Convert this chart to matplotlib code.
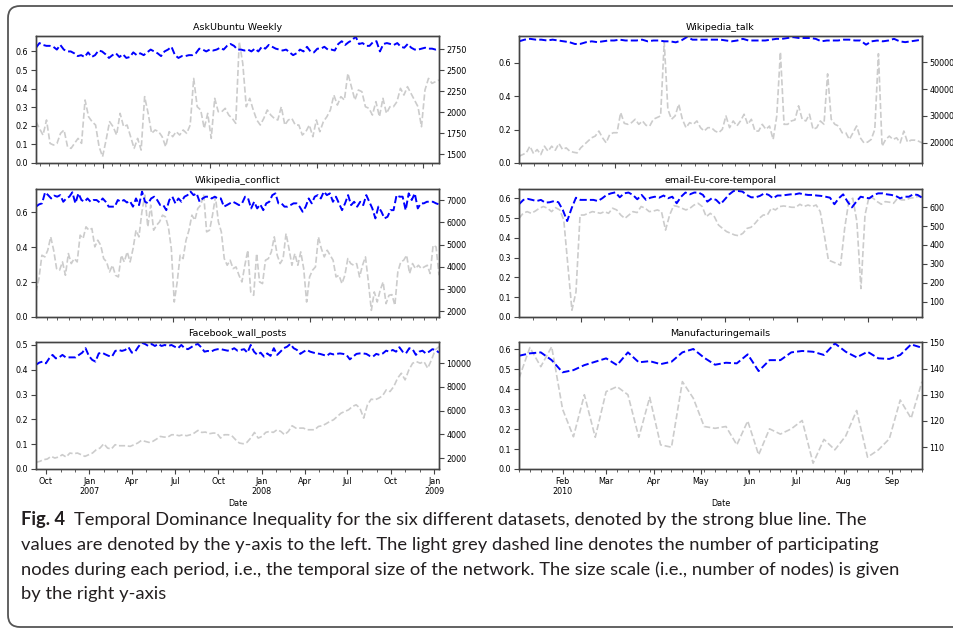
import numpy as np
import pandas as pd
import matplotlib
matplotlib.use('Agg')
import matplotlib.pyplot as plt
import matplotlib.dates as mdates
from matplotlib.ticker import MultipleLocator, FuncFormatter, ScalarFormatter
from matplotlib.path import Path
from matplotlib.patches import PathPatch
from matplotlib.transforms import Affine2D
from matplotlib import font_manager

# ---- data ----
# blue = temporal dominance inequality (left axis), grey = number of nodes (right axis)
askubuntu_tdi = [0.62, 0.645, 0.635, 0.63, 0.63, 0.625, 0.61, 0.635, 0.61, 0.60, 0.60, 0.59, 0.575, 0.58, 0.57,
                 0.595, 0.57, 0.58, 0.605, 0.60, 0.585, 0.565, 0.58, 0.59, 0.57, 0.585, 0.565, 0.57, 0.595, 0.58,
                 0.59, 0.58, 0.595, 0.61, 0.60, 0.59, 0.575, 0.60, 0.61, 0.625, 0.58, 0.565, 0.575, 0.575, 0.58,
                 0.58, 0.59, 0.615, 0.61, 0.60, 0.61, 0.605, 0.61, 0.62, 0.61, 0.63, 0.64, 0.63, 0.61, 0.61,
                 0.605, 0.61, 0.60, 0.615, 0.60, 0.625, 0.615, 0.635, 0.625, 0.615, 0.61, 0.605, 0.61, 0.595,
                 0.58, 0.59, 0.61, 0.60, 0.625, 0.60, 0.595, 0.615, 0.615, 0.625, 0.61, 0.61, 0.605, 0.64, 0.655,
                 0.635, 0.65, 0.66, 0.68, 0.64, 0.645, 0.63, 0.63, 0.65, 0.655, 0.60, 0.64, 0.645, 0.64, 0.635,
                 0.645, 0.625, 0.62, 0.64, 0.62, 0.61, 0.61, 0.615, 0.62, 0.615, 0.615, 0.61, 0.615]
askubuntu_size = [1885, 1805, 1725, 1905, 1627, 1607, 1627, 1746, 1786, 1587, 1567, 1627, 1686, 1627, 2143, 1944,
                  1885, 1845, 1587, 1468, 1667, 1885, 1825, 1726, 1984, 1825, 1845, 1706, 1567, 1686, 1547, 2183,
                  1984, 1746, 1786, 1766, 1706, 1587, 1766, 1706, 1766, 1726, 1786, 1746, 1845, 2400, 2063, 2024,
                  1805, 1984, 1687, 2163, 2004, 2004, 2044, 1964, 1924, 1865, 2837, 2579, 2063, 2163, 2024, 1905,
                  1845, 1924, 2024, 1964, 1924, 1905, 2063, 1845, 1905, 1924, 1845, 1845, 1726, 1766, 1845, 1706,
                  1905, 1766, 1885, 1944, 2024, 2202, 2083, 2183, 2143, 2460, 2302, 2143, 2262, 2242, 2063, 2044,
                  1964, 2123, 1944, 2163, 1984, 2063, 2063, 2123, 2282, 2202, 2302, 2222, 2143, 2063, 1825, 2262,
                  2400, 2341, 2361, 2381]

wikitalk_tdi = [0.73, 0.74, 0.745, 0.74, 0.74, 0.735, 0.74, 0.735, 0.73, 0.725, 0.714, 0.715, 0.725, 0.73, 0.725,
                0.73, 0.735, 0.735, 0.74, 0.735, 0.735, 0.735, 0.74, 0.73, 0.735, 0.735, 0.73, 0.73, 0.724, 0.735,
                0.756, 0.74, 0.74, 0.74, 0.74, 0.74, 0.74, 0.735, 0.73, 0.735, 0.745, 0.735, 0.735, 0.735, 0.735,
                0.74, 0.745, 0.745, 0.75, 0.755, 0.75, 0.75, 0.75, 0.745, 0.73, 0.735, 0.735, 0.735, 0.74, 0.74,
                0.735, 0.735, 0.71, 0.73, 0.735, 0.73, 0.735, 0.745, 0.73, 0.725, 0.73, 0.735, 0.74]
wikitalk_size = [15000, 15625, 16250, 18750, 16000, 17500, 15625, 18750, 16875, 18750, 17250, 19750, 17500, 18125,
                 16875, 16500, 16250, 18125, 19375, 20625, 21875, 22500, 24375, 21875, 20000, 23125, 23750, 23750,
                 31250, 27250, 26875, 27500, 28750, 26875, 28125, 26500, 26250, 28750, 29375, 30000, 57500, 32500,
                 28750, 30000, 34375, 28750, 25625, 27500, 26875, 28125, 25625, 24375, 25625, 25625, 24375, 23750,
                 25000, 30000, 25625, 28125, 26250, 28125, 30625, 26875, 28750, 24375, 24375, 26875, 25000, 26250,
                 21250, 30000, 53750, 26875, 26875, 28125, 28500, 33750, 28750, 28125, 30625, 25000, 25625, 28125,
                 26875, 45625, 28750, 26875, 26250, 23750, 23750, 21250, 23750, 26250, 21875, 20000, 20250, 21250,
                 25000, 53125, 18750, 21250, 22500, 21250, 21875, 20000, 24375, 20250, 21000, 21000, 20625, 20000]

conflict_tdi = [0.631, 0.644, 0.650, 0.713, 0.697, 0.678, 0.694, 0.688, 0.697, 0.659, 0.678, 0.688, 0.713, 0.650,
                0.707, 0.669, 0.659, 0.678, 0.659, 0.669, 0.669, 0.655, 0.678, 0.659, 0.631, 0.631, 0.631, 0.669,
                0.659, 0.669, 0.655, 0.663, 0.631, 0.678, 0.640, 0.717, 0.659, 0.650, 0.678, 0.688, 0.669, 0.640,
                0.640, 0.611, 0.669, 0.688, 0.650, 0.678, 0.659, 0.688, 0.697, 0.717, 0.697, 0.707, 0.659, 0.678,
                0.688, 0.688, 0.678, 0.688, 0.678, 0.678, 0.631, 0.640, 0.650, 0.659, 0.650, 0.640, 0.650, 0.688,
                0.678, 0.621, 0.659, 0.621, 0.644, 0.611, 0.650, 0.659, 0.697, 0.707, 0.650, 0.650, 0.631, 0.631,
                0.640, 0.650, 0.650, 0.631, 0.602, 0.631, 0.678, 0.650, 0.688, 0.697, 0.678, 0.717, 0.697, 0.707,
                0.659, 0.688, 0.650, 0.611, 0.650, 0.697, 0.640, 0.659, 0.631, 0.659, 0.640, 0.697, 0.659, 0.621,
                0.564, 0.631, 0.602, 0.564, 0.573, 0.611, 0.611, 0.697, 0.688, 0.688, 0.611, 0.707, 0.669, 0.707,
                0.621, 0.650, 0.650, 0.659, 0.659, 0.659, 0.650, 0.644]
conflict_size = [2870, 3470, 4520, 4445, 4745, 5345, 4745, 3920, 3845, 4220, 3620, 4595, 4145, 4370, 4220, 5420,
                 5270, 5795, 5645, 5720, 4895, 5195, 4970, 4370, 4220, 3770, 4070, 3620, 3545, 4520, 4220, 4670,
                 4220, 4820, 5645, 5345, 6470, 7220, 5795, 6770, 5645, 5870, 6020, 6320, 6245, 5795, 4820, 2420,
                 3320, 4520, 4370, 5195, 5645, 6320, 6095, 6620, 6770, 7250, 5570, 5645, 6320, 7145, 6020, 5570,
                 4370, 4070, 4295, 3920, 3995, 3620, 3320, 4070, 4745, 2870, 2720, 4595, 3320, 3245, 4295, 4370,
                 4670, 5345, 4520, 4145, 4370, 5495, 4820, 4070, 4595, 4070, 4670, 3920, 2420, 3545, 3845, 3995,
                 5345, 4820, 4445, 4745, 4520, 4295, 3545, 3620, 3245, 3620, 4370, 4145, 4070, 4145, 3545, 4070,
                 4445, 3320, 2045, 2870, 2420, 2945, 3320, 2345, 2720, 2750, 2270, 3770, 4220, 4295, 4520, 3695,
                 4145, 3920, 4070, 3920, 3995, 4070, 3695, 4970, 4895, 3620]

email_tdi = [0.570, 0.592, 0.597, 0.592, 0.586, 0.592, 0.578, 0.580, 0.586, 0.580, 0.541, 0.485, 0.549, 0.603,
             0.592, 0.592, 0.592, 0.592, 0.586, 0.600, 0.617, 0.625, 0.630, 0.605, 0.625, 0.629, 0.617, 0.595,
             0.617, 0.592, 0.603, 0.608, 0.603, 0.614, 0.600, 0.608, 0.575, 0.608, 0.629, 0.620, 0.629, 0.629,
             0.617, 0.583, 0.600, 0.592, 0.570, 0.595, 0.620, 0.637, 0.637, 0.634, 0.617, 0.605, 0.605, 0.612,
             0.625, 0.617, 0.600, 0.614, 0.614, 0.617, 0.620, 0.620, 0.625, 0.620, 0.617, 0.617, 0.614, 0.612,
             0.608, 0.603, 0.570, 0.600, 0.620, 0.583, 0.554, 0.583, 0.608, 0.603, 0.600, 0.617, 0.625, 0.625,
             0.620, 0.617, 0.612, 0.600, 0.608, 0.608, 0.620, 0.617, 0.603]
email_size = [541, 568, 577, 568, 580, 595, 604, 595, 577, 598, 586, 533, 293, 54, 151, 559, 559, 568, 577, 573,
              568, 577, 568, 595, 586, 559, 541, 559, 577, 572, 604, 595, 577, 580, 586, 577, 479, 559, 609, 604,
              595, 586, 595, 612, 621, 604, 550, 568, 550, 506, 488, 471, 462, 453, 449, 462, 488, 494, 515, 541,
              559, 559, 595, 586, 604, 607, 604, 600, 600, 616, 604, 612, 604, 612, 577, 453, 320, 311, 302, 293,
              488, 630, 648, 524, 169, 559, 657, 648, 630, 616, 630, 627, 621, 648, 639, 639, 648, 651, 657, 657]

facebook_tdi = [0.420, 0.429, 0.433, 0.426, 0.446, 0.460, 0.446, 0.450, 0.460, 0.450, 0.450, 0.450, 0.450, 0.460,
                0.469, 0.487, 0.456, 0.440, 0.433, 0.466, 0.469, 0.462, 0.456, 0.453, 0.476, 0.480, 0.476, 0.480,
                0.491, 0.469, 0.473, 0.493, 0.509, 0.504, 0.496, 0.504, 0.496, 0.504, 0.496, 0.500, 0.496, 0.500,
                0.493, 0.487, 0.500, 0.487, 0.483, 0.491, 0.500, 0.504, 0.491, 0.473, 0.476, 0.473, 0.480, 0.483,
                0.483, 0.480, 0.477, 0.480, 0.487, 0.477, 0.480, 0.483, 0.469, 0.500, 0.473, 0.460, 0.469, 0.453,
                0.466, 0.456, 0.487, 0.460, 0.473, 0.487, 0.493, 0.504, 0.487, 0.480, 0.464, 0.473, 0.480, 0.473,
                0.469, 0.466, 0.464, 0.460, 0.456, 0.466, 0.462, 0.464, 0.466, 0.464, 0.460, 0.442, 0.453, 0.464,
                0.466, 0.466, 0.464, 0.456, 0.453, 0.464, 0.460, 0.466, 0.477, 0.473, 0.480, 0.473, 0.491, 0.473,
                0.466, 0.487, 0.483, 0.460, 0.473, 0.477, 0.466, 0.473, 0.483, 0.480, 0.469]
facebook_size = [1635, 1719, 1860, 1916, 2140, 2000, 2084, 2281, 2084, 2421, 2365, 2421, 2281, 2140, 2281, 2421,
                 2702, 2843, 3208, 2843, 2758, 3124, 3039, 3039, 3039, 2983, 3124, 3264, 3489, 3405, 3320, 3405,
                 3601, 3826, 3770, 3770, 3966, 3966, 3882, 3966, 3882, 3966, 4107, 4331, 4163, 4191, 4051, 4107,
                 4107, 3685, 3966, 3966, 3882, 3545, 3264, 3208, 3320, 3685, 4163, 3685, 3826, 4163, 4247, 4163,
                 4388, 4247, 3966, 4247, 4725, 4528, 4528, 4528, 4388, 4388, 4388, 4669, 4725, 4893, 5090, 5230,
                 5511, 5792, 5933, 6073, 6354, 6494, 6214, 5371, 6494, 6972, 6916, 7056, 7253, 7758, 7618, 8039,
                 8742, 9163, 8601, 9444, 10006, 10146, 10006, 10146, 9584, 10287, 11129, 11410]

manuf_tdi = [0.568, 0.580, 0.585, 0.546, 0.485, 0.496, 0.521, 0.538, 0.555, 0.521, 0.585, 0.535, 0.541, 0.526,
             0.538, 0.585, 0.602, 0.558, 0.523, 0.533, 0.530, 0.575, 0.491, 0.546, 0.546, 0.585, 0.592, 0.588,
             0.572, 0.630, 0.588, 0.560, 0.588, 0.555, 0.552, 0.572, 0.625, 0.608]
manuf_size = [136.3, 148.0, 140.7, 148.3, 124.5, 114.0, 130.0, 113.8, 131.2, 133.1, 130.0, 113.8, 129.0, 110.9,
              110.0, 135.0, 128.7, 117.9, 117.2, 117.9, 110.9, 120.0, 107.1, 117.0, 115.0, 117.0, 120.2, 103.9,
              113.0, 109.0, 114.3, 124.0, 106.2, 109.0, 113.2, 128.0, 121.0, 135.0]

caption_lines = [
    'Temporal Dominance Inequality for the six different datasets, denoted by the strong blue line. The',
    'values are denoted by the y-axis to the left. The light grey dashed line denotes the number of participating',
    'nodes during each period, i.e., the temporal size of the network. The size scale (i.e., number of nodes) is given',
    'by the right y-axis',
]


def month_fmt(year_months):
    def f(x, pos=None):
        d = mdates.num2date(x)
        s = d.strftime('%b')
        if d.month in year_months:
            s += '\n' + d.strftime('%Y')
        return s
    return FuncFormatter(f)


panels = [
    dict(title='AskUbuntu Weekly', tdi=askubuntu_tdi, size=askubuntu_size, span=('2010-05-17', '2014-02-24'),
         ylim=(0, 0.683), ystep=0.1, y2lim=(1393, 2905), y2step=250,
         major=mdates.YearLocator(), minor=mdates.MonthLocator(), fmt=None),
    dict(title='Wikipedia_talk', tdi=wikitalk_tdi, size=wikitalk_size, span=('2004-05-27', '2006-12-01'),
         ylim=(0, 0.762), ystep=0.2, y2lim=(12500, 59700), y2step=10000,
         major=mdates.YearLocator(), minor=mdates.MonthLocator(), fmt=None),
    dict(title='Wikipedia_conflict', tdi=conflict_tdi, size=conflict_size, span=('2004-01-04', '2006-12-10'),
         ylim=(0, 0.732), ystep=0.2, y2lim=(1745, 7495), y2step=1000,
         major=mdates.YearLocator(), minor=mdates.MonthLocator(), fmt=None),
    dict(title='email-Eu-core-temporal', tdi=email_tdi, size=email_size, span=('2004-01-14', '2005-06-08'),
         ylim=(0, 0.647), ystep=0.1, y2lim=(18, 697), y2step=100,
         major=mdates.MonthLocator(bymonth=[1, 4, 7, 10]), minor=mdates.MonthLocator(), fmt=None),
    dict(title='Facebook_wall_posts', tdi=facebook_tdi, size=facebook_size, span=('2006-09-10', '2009-01-11'),
         ylim=(0, 0.512), ystep=0.1, y2lim=(1073, 11800), y2step=2000,
         major=mdates.MonthLocator(bymonth=[1, 4, 7, 10]), minor=mdates.MonthLocator(), fmt=month_fmt([1])),
    dict(title='Manufacturingemails', tdi=manuf_tdi, size=manuf_size, span=('2010-01-04', '2010-09-20'),
         ylim=(0, 0.637), ystep=0.1, y2lim=(101.7, 150.1), y2step=10,
         major=mdates.MonthLocator(), minor=mdates.WeekdayLocator(byweekday=mdates.MO), fmt=month_fmt([2])),
]

W, H = 954, 630
fig = plt.figure(figsize=(W / 100, H / 100), dpi=100)

col_x = [36, 519]
row_top = [36, 189, 342]
row_h = [127, 128, 127]
edge = '#444444'
tick_fs = 5.8

for i, p in enumerate(panels):
    r, c = divmod(i, 2)
    rect = [col_x[c] / W, (H - row_top[r] - row_h[r]) / H, 403 / W, row_h[r] / H]
    ax = fig.add_axes(rect)
    ax2 = ax.twinx()
    start, end = pd.Timestamp(p['span'][0]), pd.Timestamp(p['span'][1])
    x1 = pd.date_range(start, end, periods=len(p['tdi']))
    x2 = pd.date_range(start, end, periods=len(p['size']))
    ax2.plot(x2, p['size'], color='#cccccc', ls='--', lw=1.2)
    ax.plot(x1, p['tdi'], color='blue', ls='--', lw=1.4)
    ax.set_zorder(ax2.get_zorder() + 1)
    ax.patch.set_visible(False)

    ax.set_xlim(start, end)
    ax.set_ylim(*p['ylim'])
    ax2.set_ylim(*p['y2lim'])
    ax.yaxis.set_major_locator(MultipleLocator(p['ystep']))
    ax2.yaxis.set_major_locator(MultipleLocator(p['y2step']))
    ax2.yaxis.set_major_formatter(ScalarFormatter(useOffset=False))
    ax.xaxis.set_major_locator(p['major'])
    ax.xaxis.set_minor_locator(p['minor'])
    if p['fmt'] is not None:
        ax.xaxis.set_major_formatter(p['fmt'])
        ax.set_xlabel('Date', fontsize=tick_fs, labelpad=2)
    else:
        ax.tick_params(axis='x', labelbottom=False)

    for a in (ax, ax2):
        for s in a.spines.values():
            s.set_color(edge)
            s.set_linewidth(1.0)
        a.tick_params(which='major', length=3.5, width=0.8, color=edge, labelsize=tick_fs, pad=2)
        a.tick_params(which='minor', length=2, width=0.6, color=edge)
    for lbl in ax.get_xticklabels():
        lbl.set_ha('center')
    ax.set_title(p['title'], fontsize=6.8, pad=4)

# frame around the figure (pixel coordinates, y down), open on the right
to_fig = Affine2D().scale(1 / W, -1 / H).translate(0, 1) + fig.transFigure
rr = 12
left, top, bottom = 8, 6, 627
verts = [(W + 60, top), (left + rr, top), (left, top), (left, top + rr), (left, bottom - rr),
         (left, bottom), (left + rr, bottom), (W + 60, bottom)]
codes = [Path.MOVETO, Path.LINETO, Path.CURVE3, Path.CURVE3, Path.LINETO, Path.CURVE3, Path.CURVE3, Path.LINETO]
fig.add_artist(PathPatch(Path(verts, codes), transform=to_fig, fill=False, edgecolor='#555555', lw=1.3))

# caption
cap_family = 'DejaVu Sans'
for fam in ['Liberation Sans Narrow', 'Lato', 'Roboto']:
    try:
        font_manager.findfont(fam, fallback_to_default=False)
        cap_family = fam
        break
    except ValueError:
        pass

renderer = fig.canvas.get_renderer()
probe = fig.text(0, 0, caption_lines[0], fontsize=12, family=cap_family)
probe_w = probe.get_window_extent(renderer).width
probe.remove()
cap_fs = 12 * (863 - 76) / probe_w

cap_color = '#231f20'
line_y = [520, 545, 570, 594]
head = fig.text(21 / W, 1 - line_y[0] / H, 'Fig. 4', fontsize=cap_fs, weight='bold', family=cap_family,
                color=cap_color, va='center')
hx = head.get_window_extent(renderer).x1
fig.text((hx + 9) / W, 1 - line_y[0] / H, caption_lines[0], fontsize=cap_fs, family=cap_family,
         color=cap_color, va='center')
for ln, yy in zip(caption_lines[1:], line_y[1:]):
    fig.text(21 / W, 1 - yy / H, ln, fontsize=cap_fs, family=cap_family, color=cap_color, va='center')

fig.savefig('out.png', dpi=100)
